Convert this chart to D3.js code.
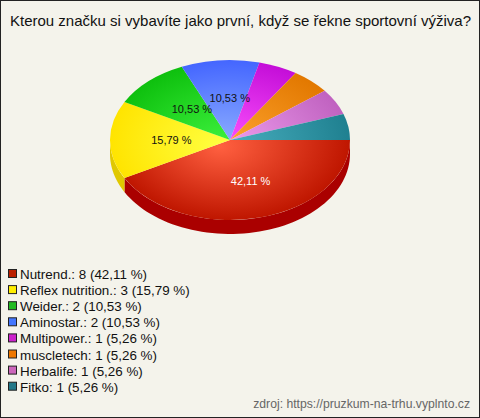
<!DOCTYPE html>
<html><head><meta charset="utf-8">
<script src="https://cdn.jsdelivr.net/npm/d3@7"></script>
<style>
html,body{margin:0;padding:0;background:#fff;}
svg{display:block;font-family:"Liberation Sans",Arial,sans-serif;}
</style></head>
<body>
<svg id="c" width="480" height="418"></svg>
<script>
const title = "Kterou značku si vybavíte jako první, když se řekne sportovní výživa?";
const categories = ["Nutrend.", "Reflex nutrition.", "Weider.", "Aminostar.", "Multipower.", "muscletech", "Herbalife", "Fitko"];
const counts = [8, 3, 2, 2, 1, 1, 1, 1];
const topLight = ["#ff6040", "#ffff40", "#3ef23e", "#8fb0ff", "#ff55ff", "#ffa530", "#f0a0f0", "#4cb2c2"];
const topDark  = ["#bf1600", "#ffe400", "#0ec00e", "#4466ff", "#c40ed8", "#e27800", "#c062c0", "#1f8090"];
const sideColors = ["#aa0000", "#e0c800", "#0a9a0a", "#3355cc", "#a010b0", "#c06000", "#a050a0", "#1a6a78"];
const legendColors = ["#bb2000", "#ffee00", "#22bb22", "#4477ff", "#cc22cc", "#ee7700", "#cc66bb", "#227788"];
const source = "zdroj: https://pruzkum-na-trhu.vyplnto.cz";

const W = 480, H = 418;
const cx = 230, cy = 140, rx = 120, ry = 80, depth = 14;
const svg = d3.select("#c");

svg.append("rect").attr("x",0.5).attr("y",0.5).attr("width",W-1).attr("height",H-1)
  .attr("fill","#f4f3eb").attr("stroke","#222").attr("stroke-width",1);

svg.append("text").attr("x",10).attr("y",26).attr("font-size",15).attr("fill","#111").text(title);

const total = d3.sum(counts);
const fmt = v => d3.format(".2f")(v).replace(".", ",");
const pcts = counts.map(c => c / total * 100);

const pie = d3.pie().sort(null).value(d => d).startAngle(Math.PI/2).endAngle(Math.PI/2 + 2*Math.PI);
const arcs = pie(counts);

const defs = svg.append("defs");
arcs.forEach((a, i) => {
  const g = defs.append("radialGradient").attr("id","g"+i)
    .attr("gradientUnits","userSpaceOnUse").attr("cx",0).attr("cy",0).attr("r",rx).attr("fx",-10).attr("fy",10);
  g.append("stop").attr("offset","0%").attr("stop-color",topLight[i]);
  g.append("stop").attr("offset","100%").attr("stop-color",topDark[i]);
});

// side walls (front half: screen angle 0..PI)
const sideG = svg.append("g");
arcs.forEach((a, i) => {
  let t1 = a.startAngle - Math.PI/2, t2 = a.endAngle - Math.PI/2;
  const s = Math.max(t1, 0), e = Math.min(t2, Math.PI);
  if (e <= s) return;
  const n = 60, pts = [];
  for (let k = 0; k <= n; k++) { const t = s + (e-s)*k/n; pts.push([cx + rx*Math.cos(t), cy + ry*Math.sin(t)]); }
  for (let k = n; k >= 0; k--) { const t = s + (e-s)*k/n; pts.push([cx + rx*Math.cos(t), cy + ry*Math.sin(t) + depth]); }
  sideG.append("path").attr("d", d3.line()(pts) + "Z").attr("fill", sideColors[i]);
});

// top face
const arcGen = d3.arc().innerRadius(0).outerRadius(rx);
const topG = svg.append("g").attr("transform", `translate(${cx},${cy}) scale(1,${ry/rx})`);
arcs.forEach((a, i) => {
  topG.append("path").attr("d", arcGen(a)).attr("fill", `url(#g${i})`);
});

// labels
const labelArc = d3.arc().innerRadius(0).outerRadius(rx*1.06);
arcs.forEach((a, i) => {
  if (pcts[i] < 10) return;
  const [x, y] = labelArc.centroid(a);
  svg.append("text").attr("x", cx + x + 5).attr("y", cy + y*ry/rx + 4)
    .attr("text-anchor","middle").attr("font-size",11)
    .attr("fill", i === 0 ? "#fff" : "#111").text(fmt(pcts[i]) + " %");
});

// legend
const lg = svg.append("g");
categories.forEach((c, i) => {
  const y = 274 + i*16.1;
  lg.append("rect").attr("x",8.5).attr("y",y-4.5).attr("width",8).attr("height",8)
    .attr("fill",legendColors[i]).attr("stroke","#222").attr("stroke-width",1);
  lg.append("text").attr("x",20).attr("y",y+5).attr("font-size",13.4).attr("fill","#111")
    .text(`${c}: ${counts[i]} (${fmt(pcts[i])} %)`);
});

svg.append("text").attr("x",470).attr("y",408).attr("text-anchor","end").attr("font-size",12.2)
  .attr("fill","#666").text(source);
</script>
</body></html>
